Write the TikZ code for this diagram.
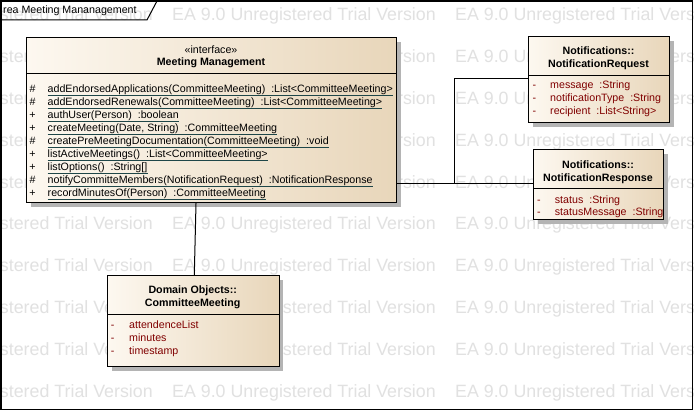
\documentclass[tikz,border=0pt]{standalone}
\usepackage{fontspec}
\setmainfont{Liberation Sans}
\usetikzlibrary{calc,shadows}
\definecolor{wmgray}{RGB}{225,225,225}
\definecolor{boxl}{RGB}{253,248,240}
\definecolor{boxr}{RGB}{232,214,186}
\definecolor{shadowc}{RGB}{180,180,180}
\definecolor{attrc}{RGB}{128,0,0}
\definecolor{ulc}{RGB}{30,70,72}
\newcommand\fsn{\fontsize{10.67pt}{12pt}\selectfont}
\newcommand\gapp{\hspace{0.556em}}
\begin{document}
\begin{tikzpicture}[x=1pt,y=-1pt,
  umlbox/.style={draw=black,line width=1.2pt,left color=boxl,right color=boxr,
    inner sep=0,anchor=north west,
    general shadow={fill=shadowc,shadow xshift=4pt,shadow yshift=-4pt}},
  divline/.style={line width=1pt},
  hdr/.style={anchor=base,inner sep=0,font=\fsn\bfseries},
  ster/.style={anchor=base,inner sep=0,font=\fsn},
  vis/.style={anchor=base,inner sep=0,font=\fsn},
  op/.style={anchor=base west,inner sep=0,font=\fsn},
  uline/.style={ulc,line width=0.9pt},
  attr/.style={anchor=base west,inner sep=0,font=\fsn,text=attrc},
  dashv/.style={anchor=base,inner sep=0,font=\fsn,text=attrc},
  conn/.style={line width=1pt},
  wm/.style={anchor=base west,inner sep=0,font=\fontsize{17.8pt}{20pt}\selectfont,text=wmgray}]
\useasboundingbox (0,0) rectangle (694,411);
\fill[white] (0,0) rectangle (694,411);
% watermark
\begin{scope}
\clip (0,0) rectangle (694,411);
\foreach \r in {0,...,9}{
  \foreach \c in {0,1,2}{
    \node[wm] (wm-\r-\c) at ({-111+283*\c},{20.5+41.9*\r}) {EA 9.0 Unregistered Trial Version};
  }
}
\end{scope}
% frame
\draw[line width=1.1pt] (1,1) rectangle (692.5,409.5);
\draw[line width=1pt] (1,20) -- (147,20) -- (157,1);
\node[anchor=base west,inner sep=0,font=\fsn] (title) at (3,14) {rea Meeting Mananagement};

% Meeting Management
\node[umlbox,minimum width=370pt,minimum height=165pt] (mm) at (26,37) {};
\draw[divline] ($(mm.north west)+(0,37)$) -- ($(mm.north east)+(0,37)$);
\node[ster] (mmst) at (211,53.5) {«interface»};
\node[hdr] (mmname) at (211,66) {Meeting Management};
\newcommand\oprow[4]{%
  \node[vis] (#1v) at (32.5,#2) {#3};
  \node[op] (#1) at (47.5,#2) {#4};
  \draw[uline] ($(#1.base west)+(0,2.5)$) -- ($(#1.base east)+(0,2.5)$);
}
\oprow{op1}{92.5}{\#}{addEndorsedApplications(CommitteeMeeting)\gapp:List<CommitteeMeeting>}
\oprow{op2}{105.5}{\#}{addEndorsedRenewals(CommitteeMeeting)\gapp:List<CommitteeMeeting>}
\oprow{op3}{118.5}{+}{authUser(Person)\gapp:boolean}
\oprow{op4}{131.5}{+}{createMeeting(Date, String)\gapp:CommitteeMeeting}
\oprow{op5}{144.5}{\#}{createPreMeetingDocumentation(CommitteeMeeting)\gapp:void}
\oprow{op6}{157.5}{+}{listActiveMeetings()\gapp:List<CommitteeMeeting>}
\oprow{op7}{170.5}{+}{listOptions()\gapp:String[]}
\oprow{op8}{183.5}{\#}{notifyCommitteMembers(NotificationRequest)\gapp:NotificationResponse}
\oprow{op9}{196.5}{+}{recordMinutesOf(Person)\gapp:CommitteeMeeting}

% NotificationRequest
\node[umlbox,minimum width=141pt,minimum height=86pt] (nreq) at (528,36) {};
\draw[divline] ($(nreq.north west)+(0,40)$) -- ($(nreq.north east)+(0,40)$);
\node[hdr] (nreqh1) at (598.5,54.5) {Notifications::};
\node[hdr] (nreqh2) at (598.5,67.5) {NotificationRequest};
\node[dashv] (nreqd1) at (534.3,89) {-};
\node[attr] (nreqa1) at (550,89) {message\gapp:String};
\node[dashv] (nreqd2) at (534.3,102) {-};
\node[attr] (nreqa2) at (550,102) {notificationType\gapp:String};
\node[dashv] (nreqd3) at (534.3,115) {-};
\node[attr] (nreqa3) at (550,115) {recipient\gapp:List<String>};

% NotificationResponse
\node[umlbox,minimum width=130pt,minimum height=70pt] (nresp) at (533,149) {};
\draw[divline] ($(nresp.north west)+(0,40)$) -- ($(nresp.north east)+(0,40)$);
\node[hdr] (nresph1) at (598,168.5) {Notifications::};
\node[hdr] (nresph2) at (598,181.5) {NotificationResponse};
\node[dashv] (nrespd1) at (539,203.5) {-};
\node[attr] (nrespa1) at (554.7,203.5) {status\gapp:String};
\node[dashv] (nrespd2) at (539,216) {-};
\node[attr] (nrespa2) at (554.7,216) {statusMessage\gapp:String};

% CommitteeMeeting
\node[umlbox,minimum width=171.5pt,minimum height=91pt] (cm) at (107,275) {};
\draw[divline] ($(cm.north west)+(0,40)$) -- ($(cm.north east)+(0,40)$);
\node[hdr] (cmh1) at (192.7,294) {Domain Objects::};
\node[hdr] (cmh2) at (192.7,306.5) {CommitteeMeeting};
\node[dashv] (cmd1) at (112.7,328.5) {-};
\node[attr] (cma1) at (129,328.5) {attendenceList};
\node[dashv] (cmd2) at (112.7,341.5) {-};
\node[attr] (cma2) at (129,341.5) {minutes};
\node[dashv] (cmd3) at (112.7,354.5) {-};
\node[attr] (cma3) at (129,354.5) {timestamp};

% connectors
\coordinate (junc) at (454,184);
\draw[conn] ($(mm.south west)+(170,0)$) -- ($(cm.north west)+(87.3,0)$);
\draw[conn] ($(mm.north east)+(0,147)$) -- ($(nresp.north west)+(0,35)$);
\draw[conn] ($(nreq.north west)+(0,43)$) -| (junc);
\end{tikzpicture}
\end{document}
